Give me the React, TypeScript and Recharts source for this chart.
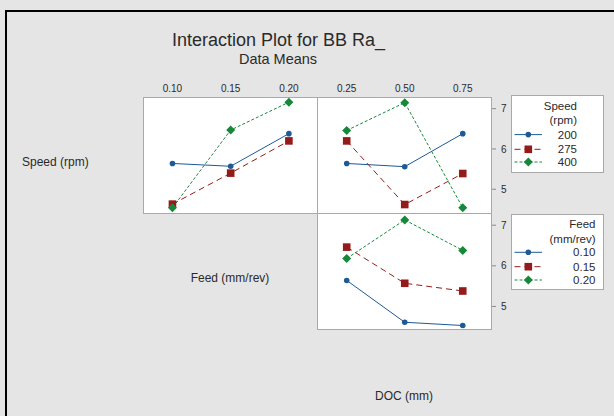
import { Line, LineChart, XAxis, YAxis } from 'recharts'

// factor levels
const feedLevels = [0.1, 0.15, 0.2]
const docLevels = [0.25, 0.5, 0.75]
const speedLevels = ['200', '275', '400']
const feedNames = ['0.10', '0.15', '0.20']
const yTicks = [5, 6, 7]

// Ra means, Speed x Feed
const speed200ByFeed = [5.64, 5.57, 6.38]
const speed275ByFeed = [4.63, 5.4, 6.2]
const speed400ByFeed = [4.54, 6.47, 7.16]

// Ra means, Speed x DOC
const speed200ByDoc = [5.64, 5.56, 6.38]
const speed275ByDoc = [6.2, 4.62, 5.39]
const speed400ByDoc = [6.46, 7.15, 4.54]

// Ra means, Feed x DOC
const feed010ByDoc = [5.64, 4.61, 4.53]
const feed015ByDoc = [6.46, 5.57, 5.38]
const feed020ByDoc = [6.18, 7.13, 6.38]

const BLUE = '#1d5a96'
const RED = '#951b1b'
const GREEN = '#17873a'
const FONT = '"Liberation Sans", Arial, sans-serif'
const TEXT = '#2a2a2a'

const seriesStyle = [
  { color: BLUE, dash: undefined as string | undefined, shape: 'circle' },
  { color: RED, dash: '6 4', shape: 'square' },
  { color: GREEN, dash: '3 2', shape: 'diamond' },
]

function Marker({ cx, cy, shape, color }: { cx: number; cy: number; shape: string; color: string }) {
  if (shape === 'circle') return <circle cx={cx} cy={cy} r={2.8} fill={color} />
  if (shape === 'square') return <rect x={cx - 3.8} y={cy - 3.8} width={7.6} height={7.6} fill={color} />
  return <polygon points={`${cx},${cy - 4.5} ${cx + 4.5},${cy} ${cx},${cy + 4.5} ${cx - 4.5},${cy}`} fill={color} />
}

function makeDot(shape: string, color: string, name: string) {
  return (props: any) => {
    const { cx, cy, index } = props
    if (cx == null || cy == null) return <g key={`${name}-${index}`} />
    return (
      <g key={`${name}-${index}`}>
        <Marker cx={cx} cy={cy} shape={shape} color={color} />
      </g>
    )
  }
}

function build(levels: number[], series: number[][]) {
  return levels.map((x, i) => {
    const row: Record<string, number> = { x }
    series.forEach((s, k) => {
      row[`s${k}`] = s[i]
    })
    return row
  })
}

type PanelProps = {
  left: number
  top: number
  width: number
  height: number
  data: Record<string, number>[]
  xDomain: [number, number]
  xTicks: number[] | null
  yDomain: [number, number]
  showY: boolean
  name: string
}

function Panel({ left, top, width, height, data, xDomain, xTicks, yDomain, showY, name }: PanelProps) {
  const axisH = 20
  const axisW = 30
  return (
    <>
      <div
        style={{
          position: 'absolute',
          left,
          top,
          width,
          height,
          background: '#fff',
          border: '1px solid #a9a9a9',
          boxSizing: 'border-box',
        }}
      />
      <div style={{ position: 'absolute', left, top: top - axisH }}>
        <LineChart
          width={width + axisW}
          height={height + axisH}
          data={data}
          margin={{ top: xTicks ? 0 : axisH, right: showY ? 0 : axisW, bottom: 0, left: 0 }}
        >
          <XAxis
            type="number"
            dataKey="x"
            domain={xDomain}
            ticks={xTicks ?? undefined}
            hide={!xTicks}
            orientation="top"
            height={axisH}
            axisLine={false}
            tickLine={false}
            tickSize={3}
            tickMargin={2}
            allowDataOverflow
            tickFormatter={(v: number) => v.toFixed(2)}
            tick={{ fontSize: 10, fill: TEXT, fontFamily: FONT }}
          />
          <YAxis
            type="number"
            domain={yDomain}
            ticks={yTicks}
            orientation="right"
            width={axisW}
            hide={!showY}
            axisLine={false}
            tickSize={4}
            tickMargin={5}
            tickLine={{ stroke: '#8a8a8a' }}
            allowDataOverflow
            tick={{ fontSize: 10, fill: TEXT, fontFamily: FONT, textAnchor: 'start' } as any}
          />
          {seriesStyle.map((s, k) => (
            <Line
              key={k}
              type="linear"
              dataKey={`s${k}`}
              stroke={s.color}
              strokeWidth={1}
              strokeDasharray={s.dash}
              dot={makeDot(s.shape, s.color, `${name}${k}`)}
              activeDot={false}
              isAnimationActive={false}
            />
          ))}
        </LineChart>
      </div>
    </>
  )
}

function LegendBox({
  left,
  top,
  width,
  height,
  title,
  labels,
  rows,
  textRight,
}: {
  left: number
  top: number
  width: number
  height: number
  title: string[]
  labels: string[]
  rows: number[]
  textRight: number
}) {
  return (
    <div
      style={{
        position: 'absolute',
        left,
        top,
        width,
        height,
        background: '#fff',
        border: '1px solid #a9a9a9',
        boxSizing: 'border-box',
      }}
    >
      <svg width={width} height={height} style={{ position: 'absolute', left: -1, top: -1 }}>
        {title.map((t, i) => (
          <text
            key={t}
            x={textRight}
            y={rows[i]}
            textAnchor="end"
            dominantBaseline="central"
            fontSize={11.5}
            fontFamily={FONT}
            fill={TEXT}
          >
            {t}
          </text>
        ))}
        {labels.map((l, i) => {
          const y = rows[title.length + i]
          const s = seriesStyle[i]
          return (
            <g key={l}>
              <line x1={3.5} x2={31} y1={y} y2={y} stroke={s.color} strokeWidth={1} strokeDasharray={s.dash} />
              <Marker cx={17.3} cy={y} shape={s.shape} color={s.color} />
              <text
                x={textRight}
                y={y}
                textAnchor="end"
                dominantBaseline="central"
                fontSize={11.5}
                fontFamily={FONT}
                fill={TEXT}
              >
                {l}
              </text>
            </g>
          )
        })}
      </svg>
    </div>
  )
}

const label = (text: string, x: number, y: number, size: number, anchor: 'start' | 'middle' = 'middle') => (
  <div
    style={{
      position: 'absolute',
      left: anchor === 'middle' ? x - 150 : x,
      top: y - size * 0.6,
      width: anchor === 'middle' ? 300 : 'auto',
      textAlign: anchor === 'middle' ? 'center' : 'left',
      fontSize: size,
      lineHeight: `${size * 1.2}px`,
      fontFamily: FONT,
      color: TEXT,
      whiteSpace: 'nowrap',
    }}
  >
    {text}
  </div>
)

export default function App() {
  const feedData = build(feedLevels, [speed200ByFeed, speed275ByFeed, speed400ByFeed])
  const docData = build(docLevels, [speed200ByDoc, speed275ByDoc, speed400ByDoc])
  const feedDocData = build(docLevels, [feed010ByDoc, feed015ByDoc, feed020ByDoc])

  return (
    <div
      style={{
        position: 'absolute',
        left: 0,
        top: 0,
        width: 614,
        height: 416,
        background: '#e5e5e5',
        overflow: 'hidden',
      }}
    >
      <div
        style={{
          position: 'absolute',
          left: 5,
          top: 10,
          width: 700,
          height: 500,
          border: '2px solid #000',
        }}
      />
      {label('Interaction Plot for BB Ra_', 278.5, 40.5, 18)}
      {label('Data Means', 278, 59.5, 14.5)}
      {label('Speed (rpm)', 22, 162, 12, 'start')}
      {label('Feed (mm/rev)', 230, 278, 12)}
      {label('DOC (mm)', 404, 396, 12)}

      <Panel
        left={143}
        top={97}
        width={175}
        height={117}
        data={feedData}
        xDomain={[0.0747, 0.225]}
        xTicks={feedLevels}
        yDomain={[4.385, 7.29]}
        showY={false}
        name="f"
      />
      <Panel
        left={317}
        top={97}
        width={175}
        height={117}
        data={docData}
        xDomain={[0.122, 0.876]}
        xTicks={docLevels}
        yDomain={[4.385, 7.29]}
        showY
        name="d"
      />
      <Panel
        left={317}
        top={213}
        width={175}
        height={117}
        data={feedDocData}
        xDomain={[0.122, 0.876]}
        xTicks={null}
        yDomain={[4.42, 7.3]}
        showY
        name="fd"
      />

      <LegendBox
        left={511}
        top={95}
        width={93}
        height={78}
        title={['Speed', '(rpm)']}
        labels={speedLevels}
        rows={[11, 25.3, 39.6, 54.3, 67]}
        textRight={66}
      />
      <LegendBox
        left={511}
        top={214}
        width={93}
        height={76}
        title={['Feed', '(mm/rev)']}
        labels={feedNames}
        rows={[10, 25, 38.3, 52.7, 66]}
        textRight={84.5}
      />
    </div>
  )
}
